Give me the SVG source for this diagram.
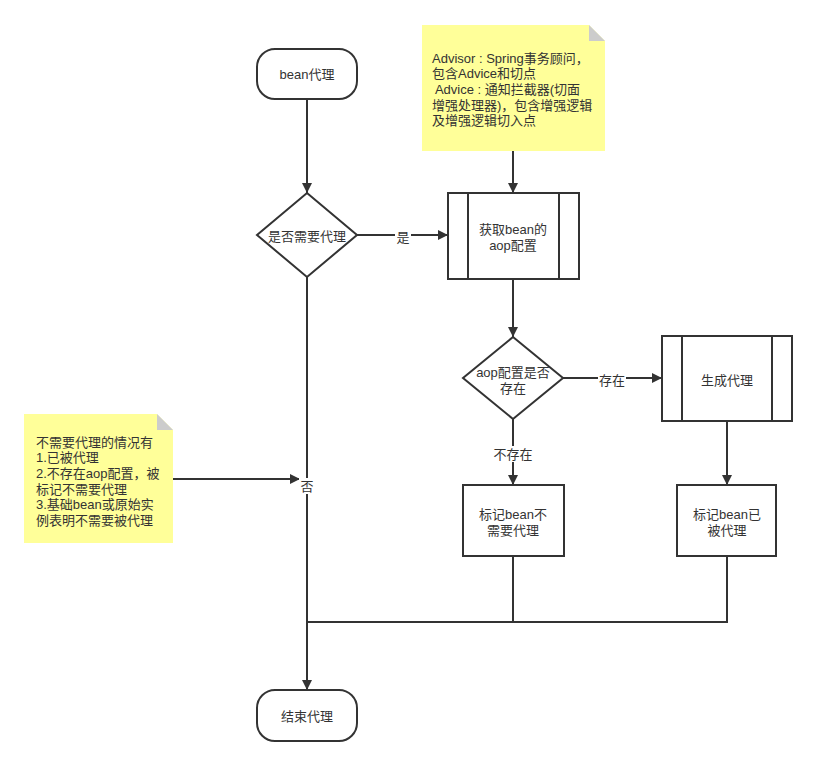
<svg xmlns="http://www.w3.org/2000/svg" width="816" height="766" viewBox="0 0 816 766">
<defs>
<marker id="arr" viewBox="0 0 10 10" refX="10" refY="5" markerWidth="10" markerHeight="10" markerUnits="userSpaceOnUse" orient="auto">
<path d="M0,0 L10,5 L0,10 Z" fill="#333"/>
</marker>
<style>
.shape{fill:#fff;stroke:#333;stroke-width:2}
.note{fill:#ffff99;stroke:none}
.fold{fill:#cccccc}
.edge{fill:none;stroke:#333;stroke-width:2}
text{font-family:"Liberation Sans","Noto Sans CJK SC",sans-serif;font-size:13px;fill:#333}
.c{text-anchor:middle;dominant-baseline:central}
.l{dominant-baseline:central}
.lbl{fill:#fff;stroke:none}
</style>
</defs>
<rect width="816" height="766" fill="#fff"/>
<g id="connectors">
<path class="edge" d="M307,99 V193" marker-end="url(#arr)"/>
<path class="edge" d="M357,235 H448" marker-end="url(#arr)"/>
<path class="edge" d="M513,151 V193" marker-end="url(#arr)"/>
<path class="edge" d="M513,279 V337" marker-end="url(#arr)"/>
<path class="edge" d="M563,378 H662" marker-end="url(#arr)"/>
<path class="edge" d="M513,419 V485" marker-end="url(#arr)"/>
<path class="edge" d="M727,421 V485" marker-end="url(#arr)"/>
<path class="edge" d="M173,479 H300" marker-end="url(#arr)"/>
<path class="edge" d="M307,277 V690" marker-end="url(#arr)"/>
<path class="edge" d="M513,556 V622 H307"/>
<path class="edge" d="M727,556 V622 H513"/>
<rect class="lbl" x="395" y="228" width="16" height="16"/>
<text class="c" x="403" y="237">是</text>
<rect class="lbl" x="598" y="371" width="28" height="16"/>
<text class="c" x="612" y="380">存在</text>
<rect class="lbl" x="492" y="446" width="42" height="16"/>
<text class="c" x="513" y="454">不存在</text>
<rect class="lbl" x="299" y="478" width="16" height="16"/>
<text class="c" x="307" y="486">否</text>
</g>
<g id="start">
<rect class="shape" x="257" y="49" width="100" height="50" rx="18" ry="18"/>
<text class="c" x="307" y="74">bean代理</text>
</g>
<g id="decision1">
<path class="shape" d="M307,193 L357,235 L307,277 L257,235 Z"/>
<text class="c" x="307" y="236">是否需要代理</text>
</g>
<g id="note1">
<path class="note" d="M422,25 H589 L605,41 V151 H422 Z"/>
<path class="fold" d="M589,25 L605,41 H589 Z"/>
<text class="l" x="432" y="58">Advisor : Spring事务顾问，</text>
<text class="l" x="432" y="73.7">包含Advice和切点</text>
<text class="l" x="432" y="89.4" xml:space="preserve"> Advice : 通知拦截器(切面</text>
<text class="l" x="432" y="105.1">增强处理器)，包含增强逻辑</text>
<text class="l" x="432" y="120.8">及增强逻辑切入点</text>
</g>
<g id="getConfig">
<rect class="shape" x="448" y="193" width="131" height="86"/>
<line class="shape" x1="468" y1="193" x2="468" y2="279"/>
<line class="shape" x1="559" y1="193" x2="559" y2="279"/>
<text class="c" x="513" y="229">获取bean的</text>
<text class="c" x="513" y="245">aop配置</text>
</g>
<g id="decision2">
<path class="shape" d="M513,337 L563,378 L513,419 L463,378 Z"/>
<text class="c" x="513" y="372">aop配置是否</text>
<text class="c" x="513" y="388">存在</text>
</g>
<g id="genProxy">
<rect class="shape" x="662" y="336" width="130" height="85"/>
<line class="shape" x1="682" y1="336" x2="682" y2="421"/>
<line class="shape" x1="772" y1="336" x2="772" y2="421"/>
<text class="c" x="727" y="380">生成代理</text>
</g>
<g id="markNo">
<rect class="shape" x="463" y="485" width="101" height="71"/>
<text class="c" x="513" y="514">标记bean不</text>
<text class="c" x="513" y="530">需要代理</text>
</g>
<g id="markYes">
<rect class="shape" x="677" y="485" width="99" height="71"/>
<text class="c" x="727" y="514">标记bean已</text>
<text class="c" x="727" y="530">被代理</text>
</g>
<g id="note2">
<path class="note" d="M24,414 H157 L173,430 V543 H24 Z"/>
<path class="fold" d="M157,414 L173,430 H157 Z"/>
<text class="l" x="36" y="442">不需要代理的情况有</text>
<text class="l" x="36" y="457.7">1.已被代理</text>
<text class="l" x="36" y="473.4">2.不存在aop配置，被</text>
<text class="l" x="36" y="489.1">标记不需要代理</text>
<text class="l" x="36" y="504.8">3.基础bean或原始实</text>
<text class="l" x="36" y="520.5">例表明不需要被代理</text>
</g>
<g id="end">
<rect class="shape" x="257" y="690" width="100" height="51" rx="18" ry="18"/>
<text class="c" x="307" y="716">结束代理</text>
</g>
</svg>
